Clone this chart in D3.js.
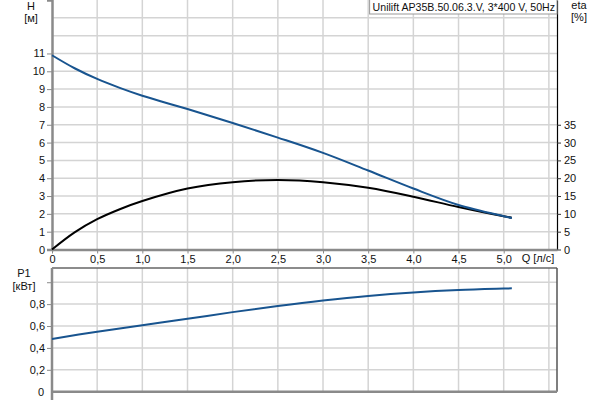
<!DOCTYPE html>
<html>
<head>
<meta charset="utf-8">
<script src="https://cdn.jsdelivr.net/npm/d3@7"></script>
<style>
  body { margin: 0; background: #fff; }
  svg { display: block; font-family: "Liberation Sans", Arial, sans-serif; }
</style>
</head>
<body>
<svg width="600" height="400"></svg>
<script>
// values
const qTicks = [0, 0.5, 1.0, 1.5, 2.0, 2.5, 3.0, 3.5, 4.0, 4.5, 5.0];
const qGrid = [0.5, 1.0, 1.5, 2.0, 2.5, 3.0, 3.5, 4.0, 4.5, 5.0, 5.5];
const hTicks = [0, 1, 2, 3, 4, 5, 6, 7, 8, 9, 10, 11];
const hGrid = [1, 2, 3, 4, 5, 6, 7, 8, 9, 10, 11, 12, 13];
const etaTicks = [0, 5, 10, 15, 20, 25, 30, 35];
const pTicks = [0, 0.2, 0.4, 0.6, 0.8];
const pGrid = [0.2, 0.4, 0.6, 0.8, 1.0];

const qH = [0, 0.25, 0.5, 0.75, 1.0, 1.5, 2.0, 2.5, 3.0, 3.5, 4.0, 4.5, 5.0, 5.09];
const hValues = [10.9, 10.17, 9.57, 9.07, 8.63, 7.88, 7.1, 6.28, 5.42, 4.43, 3.42, 2.5, 1.87, 1.77];

const qEta = [0, 0.25, 0.5, 0.75, 1.0, 1.5, 2.0, 2.5, 3.0, 3.5, 4.0, 4.5, 5.0, 5.09];
const etaValues = [0, 4.8, 8.5, 11.3, 13.6, 17.1, 18.9, 19.5, 18.9, 17.3, 14.8, 11.9, 9.3, 8.9];

const qP = [0, 0.5, 1.0, 1.5, 2.0, 2.5, 3.0, 3.5, 4.0, 4.5, 5.0, 5.09];
const pValues = [0.482, 0.548, 0.607, 0.666, 0.727, 0.783, 0.833, 0.875, 0.907, 0.929, 0.942, 0.944];

const title = "Unilift AP35B.50.06.3.V, 3*400 V, 50Hz";

const svg = d3.select("svg");
const fmt = d => d3.format(".1f")(d).replace(".", ",");
const fmtP = d => d === 0 ? "0" : d3.format(".1f")(d).replace(".", ",");

const left = 52, right = 557;
const gridColor = "#d4d4d4";
const axisGray = "#8a8a8a";
const blue = "#18548f";

const x = d3.scaleLinear().domain([0, 5.59]).range([left, right]);
const yH = d3.scaleLinear().domain([0, 14]).range([249.5, 0]);
const yEta = d3.scaleLinear().domain([0, 70]).range([249.5, 0]);
const yP = d3.scaleLinear().domain([0, 1.13]).range([391.7, 268]);

const styleText = g => g.selectAll("text").attr("font-size", 11).attr("fill", "#111")
  .attr("font-family", "Liberation Sans, Arial");

// ---------- top chart ----------
const upper = svg.append("g");

upper.selectAll(".vg").data(qGrid).enter().append("line")
  .attr("x1", d => x(d)).attr("x2", d => x(d))
  .attr("y1", 0).attr("y2", yH(0))
  .attr("stroke", gridColor).attr("stroke-width", 1.5);

upper.selectAll(".hg").data(hGrid).enter().append("line")
  .attr("x1", left).attr("x2", right)
  .attr("y1", d => yH(d)).attr("y2", d => yH(d))
  .attr("stroke", gridColor).attr("stroke-width", 1.5);

// left axis H
const axH = d3.axisLeft(yH).tickValues(hTicks).tickSize(5).tickPadding(2).tickFormat(d3.format("d"));
upper.append("g").attr("transform", `translate(${left},0)`).call(axH)
  .call(g => g.select(".domain").attr("stroke", axisGray).attr("stroke-width", 2.5))
  .call(g => g.selectAll(".tick line").attr("stroke", axisGray))
  .call(styleText);

// right axis eta
const axEta = d3.axisRight(yEta).tickValues(etaTicks).tickSize(4).tickPadding(3).tickSizeOuter(0);
upper.append("g").attr("transform", `translate(${right},0)`).call(axEta)
  .call(g => g.select(".domain").attr("stroke", "#000").attr("stroke-width", 1.2))
  .call(g => g.selectAll(".tick line").attr("stroke", "#333"))
  .call(styleText);

// bottom axis Q
const axQ = d3.axisBottom(x).tickValues(qTicks).tickSize(4).tickPadding(2).tickSizeOuter(0)
  .tickFormat(d => d === 0 ? "0" : fmt(d));
upper.append("g").attr("transform", `translate(0,${yH(0)})`).call(axQ)
  .call(g => g.select(".domain").attr("stroke", axisGray).attr("stroke-width", 2.5))
  .call(g => g.selectAll(".tick line").attr("stroke", axisGray))
  .call(styleText);

// curves
const lineH = d3.line().x((d, i) => x(qH[i])).y(d => yH(d)).curve(d3.curveCatmullRom.alpha(0.5));
const lineEta = d3.line().x((d, i) => x(qEta[i])).y(d => yEta(d)).curve(d3.curveCatmullRom.alpha(0.5));

upper.append("path").datum(etaValues).attr("d", lineEta)
  .attr("fill", "none").attr("stroke", "#000").attr("stroke-width", 2);
upper.append("path").datum(hValues).attr("d", lineH)
  .attr("fill", "none").attr("stroke", blue).attr("stroke-width", 2);

// labels
const label = (sel, tx, ty, text, anchor) => sel.append("text")
  .attr("x", tx).attr("y", ty).attr("text-anchor", anchor || "middle")
  .attr("font-size", 11).attr("fill", "#111").text(text);

label(svg, 31, 10, "H");
label(svg, 31, 22, "[м]");
label(svg, 579, 9, "eta");
label(svg, 579, 21, "[%]");
label(svg, 538, 262, "Q [л/с]");
label(svg, 24, 277, "P1");
label(svg, 24, 290, "[кВт]");

// title box
const tb = svg.append("g");
const tt = tb.append("text").attr("x", 555).attr("y", 11).attr("text-anchor", "end")
  .attr("font-size", 10.6).attr("fill", "#111").text(title);
const bb = tt.node().getBBox();
tb.insert("rect", "text")
  .attr("x", bb.x - 3).attr("y", -1).attr("width", right - bb.x + 3).attr("height", 15)
  .attr("fill", "#fff").attr("stroke", "#999").attr("stroke-width", 1);

// ---------- bottom chart ----------
const lower = svg.append("g");

lower.selectAll(".vg").data(qGrid).enter().append("line")
  .attr("x1", d => x(d)).attr("x2", d => x(d))
  .attr("y1", yP.range()[1]).attr("y2", yP(0))
  .attr("stroke", gridColor).attr("stroke-width", 1.5);

lower.selectAll(".hg").data(pGrid).enter().append("line")
  .attr("x1", left).attr("x2", right)
  .attr("y1", d => yP(d)).attr("y2", d => yP(d))
  .attr("stroke", gridColor).attr("stroke-width", 1.5);

// frame: top, right, bottom
lower.append("line").attr("x1", left).attr("x2", right).attr("y1", 268).attr("y2", 268)
  .attr("stroke", "#666").attr("stroke-width", 1.5);
lower.append("line").attr("x1", right).attr("x2", right).attr("y1", 268).attr("y2", yP(0))
  .attr("stroke", "#555").attr("stroke-width", 1.5);
lower.append("line").attr("x1", left).attr("x2", right).attr("y1", yP(0)).attr("y2", yP(0))
  .attr("stroke", axisGray).attr("stroke-width", 2.5);

const axP = d3.axisLeft(yP).tickValues(pGrid).tickSize(5).tickPadding(2).tickSizeOuter(0)
  .tickFormat(d => pTicks.includes(d) ? fmtP(d) : "");
lower.append("g").attr("transform", `translate(${left},0)`).call(axP)
  .call(g => g.select(".domain").remove())
  .call(g => g.selectAll(".tick line").attr("stroke", axisGray))
  .call(styleText);
label(lower, 44, yP(0) + 4, "0", "end");
lower.append("line").attr("x1", left).attr("x2", left).attr("y1", 268).attr("y2", 400)
  .attr("stroke", axisGray).attr("stroke-width", 2.5);

const lineP = d3.line().x((d, i) => x(qP[i])).y(d => yP(d)).curve(d3.curveCatmullRom.alpha(0.5));
lower.append("path").datum(pValues).attr("d", lineP)
  .attr("fill", "none").attr("stroke", blue).attr("stroke-width", 2);
</script>
</body>
</html>
